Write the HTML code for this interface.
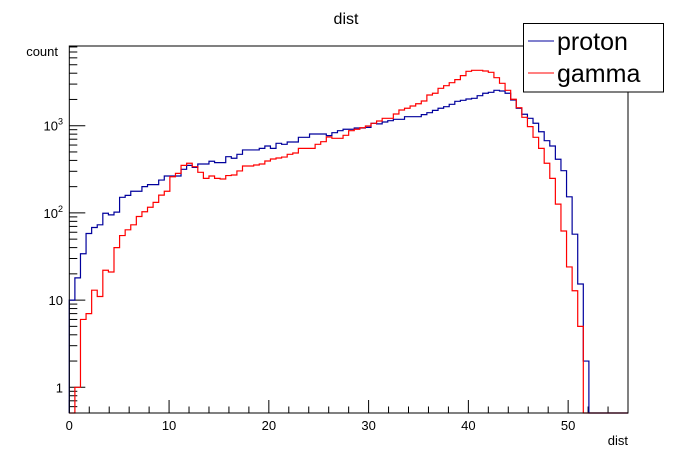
<!DOCTYPE html>
<html><head><meta charset="utf-8"><style>
html,body{margin:0;padding:0;background:#fff;}
svg{display:block;font-family:"Liberation Sans",sans-serif;}
</style></head><body>
<svg id="chart" width="698" height="460" viewBox="0 0 698 460" xmlns="http://www.w3.org/2000/svg">
<rect x="0" y="0" width="698" height="460" fill="#fff"/>
<text x="346" y="24" font-size="16" text-anchor="middle">dist</text>
<text x="58" y="56" font-size="13" text-anchor="end">count</text>
<text x="628" y="445" font-size="13" text-anchor="end">dist</text>
<g id="axes"></g>
<g id="series"></g>
<rect x="69.3" y="46" width="558.7" height="367" fill="none" stroke="#000" stroke-width="1"/>
<g>
<rect x="523.5" y="23.5" width="140" height="68.5" fill="#fff" stroke="#000" stroke-width="1"/>
<line x1="528" y1="41" x2="554" y2="41" stroke="#00009c" stroke-width="1"/>
<text x="557" y="50" font-size="25">proton</text>
<line x1="528" y1="73" x2="554" y2="73" stroke="#ff0000" stroke-width="1"/>
<text x="557" y="82" font-size="25">gamma</text>
</g>
</svg>
<script>
const binCount = 100;
const xRange = [0, 56];
const xTicks = [0, 10, 20, 30, 40, 50];
const xTickLabels = ["0", "10", "20", "30", "40", "50"];
const yDecades = [1, 10, 100, 1000];
const yTickLabels = ["1", "10", "10³", "10³"];
const protonCounts = [10,18,34,58,68,73,99,95,102,151,159,177,177,200,211,211,238,265,265,265,316,351,333,364,364,391,377,377,441,423,470,527,527,527,550,585,550,628,612,650,650,736,736,803,803,803,769,832,877,910,910,942,942,957,1065,1050,1103,1142,1184,1184,1268,1268,1268,1340,1410,1500,1585,1652,1758,1905,1954,2024,2061,2208,2354,2415,2546,2500,2354,1972,1585,1352,1216,1066,853,673,585,412,305,153,57,15.3,2,0,0,0,0,0,0,0];
const gammaCounts = [0,1,6,7,13,11,22,21,40,55,64,73,91,103,116,132,160,177,260,284,351,371,339,292,249,265,249,245,268,272,303,345,345,354,364,394,415,426,437,470,486,550,550,550,612,656,742,717,717,776,877,910,948,992,1065,1132,1216,1216,1361,1514,1585,1683,1787,1919,2250,2354,2685,2877,3113,3373,3750,4205,4315,4315,4240,4095,3553,3063,2546,2009,1610,1248,975,736,550,371,249,126,62,24,12.8,5,0,0,0,0,0,0,0,0];

const NS = "http://www.w3.org/2000/svg";
const X0 = 69.3, X1 = 628, YTOP = 46, YBOT = 413;
const Y1PX = 387.3, DEC = 87.2;
function xs(v){ return X0 + (v - xRange[0]) / (xRange[1] - xRange[0]) * (X1 - X0); }
function ys(v){ if (v <= 0) return YBOT; const y = Y1PX - Math.log10(v) * DEC; return Math.max(YTOP, Math.min(YBOT, y)); }
function mk(tag, attrs, parent){ const e = document.createElementNS(NS, tag); for (const k in attrs) e.setAttribute(k, attrs[k]); parent.appendChild(e); return e; }

const axes = document.getElementById('axes');
// x ticks
for (let v = 0; v <= 56; v += 2) {
  const major = v % 10 === 0;
  const t = mk('line', {x1: xs(v), x2: xs(v), y1: YBOT, y2: YBOT - (major ? 13 : 6.5), stroke: '#000', 'stroke-width': 1}, axes);
  
  
}
xTicks.forEach((v, i) => {
  const t = mk('text', {x: xs(v), y: 430, 'font-size': 13, 'text-anchor': 'middle'}, axes);
  t.textContent = xTickLabels[i];
  
  
});
// y ticks
for (let d = 0.1; d <= 10000; d *= 10) {
  for (let m = 1; m <= 9; m++) {
    const v = d * m;
    const y = Y1PX - Math.log10(v) * DEC;
    if (y < YTOP || y > YBOT) continue;
    const major = m === 1;
    const t = mk('line', {x1: X0, x2: X0 + (major ? 16 : 8), y1: y, y2: y, stroke: '#000', 'stroke-width': 1}, axes);
    
    
  }
}
yDecades.forEach((v, i) => {
  const y = ys(v);
  const t = mk('text', {x: 63, y: y + 5, 'font-size': 13, 'text-anchor': 'end'}, axes);
  if (v >= 100) {
    t.textContent = '10';
    const s = mk('tspan', {dy: -6, 'font-size': 9}, t);
    s.textContent = String(Math.round(Math.log10(v)));
  } else {
    t.textContent = String(v);
  }
  
  
});

function stepPath(counts){
  const w = (xRange[1] - xRange[0]) / binCount;
  let d = 'M' + xs(0) + ' ' + YBOT;
  for (let i = 0; i < counts.length; i++) {
    const y = ys(counts[i]);
    d += ' L' + xs(i * w) + ' ' + y + ' L' + xs((i + 1) * w) + ' ' + y;
  }
  return d;
}
const series = document.getElementById('series');
const pp = mk('path', {d: stepPath(protonCounts), fill: 'none', stroke: '#00009c', 'stroke-width': 1.2}, series);


const gp = mk('path', {d: stepPath(gammaCounts), fill: 'none', stroke: '#ff0000', 'stroke-width': 1.2}, series);


</script>
</body></html>
